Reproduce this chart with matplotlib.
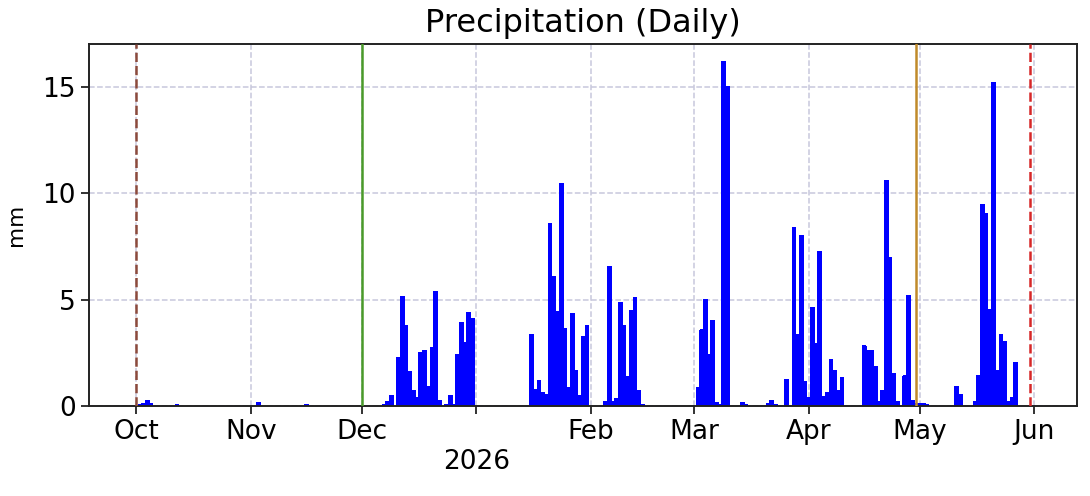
import matplotlib
matplotlib.use("Agg")
import matplotlib.pyplot as plt
import pandas as pd


# daily precipitation (mm), grouped by wet spell
oct_start = "2025-10-02"
oct_rain = [0.05, 0.12, 0.28, 0.10]

trace_dates = ["2025-10-12", "2025-11-03", "2025-11-16"]
trace_rain = [0.05, 0.17, 0.06]

dec_start = "2025-12-07"
dec_rain = [0.06, 0.20, 0.50, 0.0, 2.30, 5.16, 3.80, 1.64, 0.74, 0.40,
            2.50, 2.60, 0.90, 2.77, 5.40, 0.27, 0.0, 0.08, 0.50, 0.08,
            2.40, 3.94, 3.00, 4.40, 4.10]

jan_start = "2026-01-16"
jan_rain = [3.38, 0.78, 1.19, 0.63, 0.56, 8.58, 6.10, 4.43, 10.45, 3.65,
            0.88, 4.35, 1.66, 0.47, 3.26, 3.77]

feb_start = "2026-02-05"
feb_rain = [0.20, 6.54, 0.20, 0.36, 4.87, 3.80, 1.38, 4.48, 5.09, 0.72, 0.05]

mar_start = "2026-03-02"
mar_rain = [0.86, 3.57, 5.00, 2.44, 4.00, 0.15, 0.05, 16.20, 15.00]

mid_mar_start = "2026-03-14"
mid_mar_rain = [0.17, 0.05, 0.0, 0.0, 0.0, 0.0, 0.0, 0.10, 0.28, 0.05]

apr_start = "2026-03-26"
apr_rain = [1.25, 0.0, 8.37, 3.38, 8.03, 1.17, 0.39, 4.62, 2.94, 7.28,
            0.44, 0.63, 2.19, 1.66, 0.75, 1.33]

late_apr_start = "2026-04-16"
late_apr_rain = [2.82, 2.63, 2.60, 1.85, 0.23, 0.72, 10.58, 6.98, 1.53, 0.20,
                 0.0, 1.41, 5.21, 0.28, 0.10, 0.12, 0.12, 0.05]

may_start = "2026-05-11"
may_rain = [0.91, 0.55, 0.0, 0.0, 0.0, 0.20, 1.41, 9.47, 9.05, 4.54,
            15.18, 1.69, 3.36, 3.05, 0.23, 0.39, 2.03]

# marker lines: date, colour, style
marker_dates = ["2025-10-01", "2025-12-01", "2026-04-30", "2026-05-31"]
marker_colors = ["#8c4a3c", "#4a9a2a", "#c08a2a", "#d62728"]
marker_styles = ["--", "-", "-", "--"]

month_ticks = ["2025-10-01", "2025-11-01", "2025-12-01", "2026-01-01",
               "2026-02-01", "2026-03-01", "2026-04-01", "2026-05-01",
               "2026-06-01"]
month_labels = ["Oct", "Nov", "Dec", "\n2026", "Feb", "Mar", "Apr", "May", "Jun"]


def build_series() -> pd.Series:
    spells = [
        (oct_start, oct_rain),
        (dec_start, dec_rain),
        (jan_start, jan_rain),
        (feb_start, feb_rain),
        (mar_start, mar_rain),
        (mid_mar_start, mid_mar_rain),
        (apr_start, apr_rain),
        (late_apr_start, late_apr_rain),
        (may_start, may_rain),
    ]
    parts = [pd.Series(trace_rain, index=pd.to_datetime(trace_dates))]
    for start, values in spells:
        idx = pd.date_range(start, periods=len(values), freq="D")
        parts.append(pd.Series(values, index=idx))
    return pd.concat(parts).sort_index()


def main() -> None:
    rain = build_series()

    fig = plt.figure(figsize=(10.9, 4.96), dpi=100)
    ax = fig.add_axes([0.0817, 0.1815, 0.9063, 0.7295])

    bars = ax.bar(rain.index, rain.values, width=1.0, color="#0000ff",
                  edgecolor="none", zorder=2)
    # drop pixel snapping so neighbouring days touch without white seams
    for patch in bars:
        patch.set_snap(False)
        patch.set_antialiased(False)

    for d, c, ls in zip(marker_dates, marker_colors, marker_styles):
        ax.axvline(pd.Timestamp(d), color=c, linestyle=ls, linewidth=1.8,
                   zorder=3)

    ax.set_xlim(pd.Timestamp("2025-09-18 05:00"), pd.Timestamp("2026-06-12 14:00"))
    ax.set_ylim(0, 17)

    ax.set_xticks(pd.to_datetime(month_ticks))
    ax.set_xticklabels(month_labels)
    ax.set_yticks([0, 5, 10, 15])

    ax.grid(True, linestyle="--", color="#c8c8dc", linewidth=1.1, zorder=0)
    ax.set_axisbelow(True)

    ax.tick_params(axis="both", labelsize=19, width=1.3, length=6,
                   color="#222222")
    for spine in ax.spines.values():
        spine.set_linewidth(1.4)
        spine.set_color("#222222")

    ax.set_title("Precipitation (Daily)", fontsize=23, pad=9)
    ax.set_ylabel("mm", fontsize=15.5, labelpad=12)

    fig.savefig("out.png", dpi=100)
    plt.close(fig)


if __name__ == "__main__":
    main()
